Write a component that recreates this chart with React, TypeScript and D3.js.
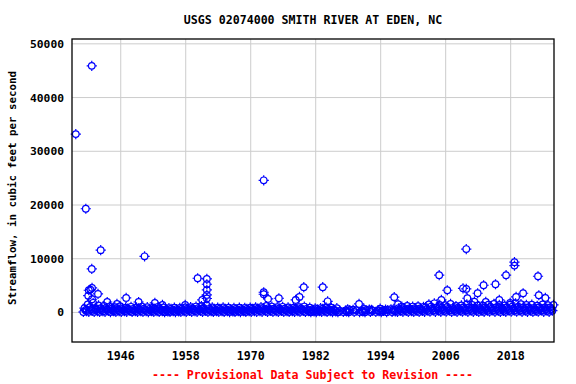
import React from "react";
import * as d3 from "d3";

const title = "USGS 02074000 SMITH RIVER AT EDEN, NC";
const yLabel = "Streamflow, in cubic feet per second";
const footer = "---- Provisional Data Subject to Revision ----";
const xTicks = [1946, 1958, 1970, 1982, 1994, 2006, 2018];
const yTicks = [0, 10000, 20000, 30000, 40000, 50000];

// Dense band of routine measurements: one entry per year starting 1939
const bandStart = 1939;
const bandLow = [80, 120, 100, 90, 110, 70, 100, 90, 110, 85, 100, 95, 75, 90, 80, 60, 85, 70, 90, 100,
  95, 110, 100, 90, 80, 95, 85, 70, 80, 75, 85, 90, 95, 110, 105, 95, 100, 90, 80, 95,
  100, 85, 60, 70, 90, 85, 70, 60, 80, 50, 90, 70, 60, 80, 90, 70, 60, 80, 100, 110,
  90, 100, 95, 120, 130, 110, 120, 140, 100, 110, 130, 120, 110, 100, 120, 130, 110, 100, 120, 140,
  130, 110, 120, 100, 130, 110, 120];
const bandLow2 = [250, 300, 260, 240, 280, 220, 260, 230, 270, 240, 260, 250, 220, 250, 230, 200, 240, 210, 250, 270,
  260, 290, 280, 240, 230, 250, 240, 210, 230, 220, 240, 250, 260, 290, 280, 260, 270, 250, 230, 260,
  270, 240, 200, 220, 250, 240, 210, null, 200, null, null, 180, null, null, 220, null, null, 210, 270, 290,
  260, 280, 270, 340, 360, 320, 330, 370, 300, 320, 350, 330, 310, 300, 340, 360, 320, 300, 340, 380,
  360, 320, 340, 300, 360, 320, 330];
const bandMid = [420, 600, 500, 450, 520, 380, 470, 430, 500, 410, 480, 450, 400, 460, 420, 350, 400, 380, 440, 470,
  450, 520, 500, 430, 410, 450, 430, 380, 400, 390, 420, 440, 460, 520, 500, 470, 480, 450, 420, 460,
  480, 430, 340, 380, 440, 420, 360, 300, 350, null, 400, 280, null, 330, 380, 300, null, 360, 500, 520,
  480, 520, 470, 650, 700, 620, 600, 680, 550, 600, 650, 620, 580, 560, 640, 700, 620, 580, 640, 720,
  680, 620, 640, 560, 680, 600, 620];
const bandHigh2 = [800, 1000, 850, 780, 820, 700, 780, 650, 740, 680, 760, 720, 640, 740, 680, 580, 650, 620, 690, 720,
  760, 820, 860, 680, 650, 690, 660, 600, 640, 620, 660, 690, 720, 820, 780, 720, 740, 690, 650, 720,
  760, 650, 540, 600, 690, 660, 580, null, null, 420, null, null, 430, 480, null, 400, 450, 500, 780, 820,
  760, 800, 740, 1000, 1100, 950, 920, 1050, 850, 900, 1000, 950, 900, 870, 980, 1050, 950, 900, 980, 1100,
  1020, 950, 980, 870, 1000, 920, 950];
const bandHigh = [1500, 1800, 1300, 1200, 1100, 1000, 1150, 900, 1050, 950, 1100, 1000, 900, 1050, 950, 800, 900, 850, 950, 1000,
  1100, 1200, 1300, 950, 900, 950, 900, 850, 880, 860, 900, 950, 1000, 1200, 1100, 1000, 1050, 950, 900, 1000,
  1100, 900, 750, 820, 950, 900, 800, null, 600, 500, null, 650, 550, null, 700, 520, 600, null, 1100, 1200,
  1100, 1150, 1050, 1500, 1700, 1400, 1350, 1600, 1200, 1300, 1500, 1400, 1300, 1250, 1450, 1600, 1400, 1300, 1450, 1700,
  1550, 1400, 1450, 1250, 1500, 1350, 1400];

// Higher measurements (decimal year, cfs)
const peakYears = [1937.7, 1939.55, 1940.65, 1940.65, 1942.3, 1940.7, 1940.4, 1940.1, 1940.0, 1941.8,
  1940.7, 1943.5, 1945.3, 1947.0, 1949.3, 1950.4, 1952.3, 1953.7, 1957.9, 1960.2,
  1961.05, 1961.9, 1961.9, 1961.9, 1961.9, 1961.9, 1972.4, 1972.4, 1972.4, 1973.2,
  1975.2, 1978.3, 1979.0, 1979.8, 1983.3, 1984.2, 1990.0, 1996.5, 1997.2, 2004.8,
  2005.2, 2006.3, 2009.2, 2009.8, 2009.8, 2010.0, 2011.3, 2011.9, 2013.0, 2013.4,
  2015.2, 2015.9, 2017.15, 2017.9, 2018.7, 2018.7, 2019.0, 2020.3, 2023.05, 2023.2, 2024.4];
const peakValues = [33200, 19300, 45900, 8100, 11600, 4560, 4250, 4130, 3130, 3440,
  2460, 1950, 1580, 2700, 1950, 10450, 1770, 1400, 1400, 6370,
  2330, 6240, 5250, 4190, 3260, 2600, 24600, 3760, 3390, 2510,
  2640, 2330, 2890, 4700, 4700, 2080, 1580, 2850, 1530, 6930,
  2330, 4130, 4500, 4380, 11800, 2640, 2010, 3570, 5060, 1955,
  5250, 2330, 6930, 1770, 9350, 8720, 2890, 3570, 6740, 3200, 2700];

const W = 576, H = 384;
const L = 72, R = 554, T = 39, B = 342;
const MONO = "'DejaVu Sans Mono', 'Liberation Mono', monospace";

export default function App() {
  const x = d3.scaleLinear().domain([1937.0, 2026.0]).range([L, R]);
  const y = d3.scaleLinear().domain([-5500, 50900]).range([B, T]);

  const pts: { yr: number; v: number }[] = [];
  const offsets = [0.1, 0.3, 0.5, 0.7, 0.9];
  bandLow.forEach((_, i) => {
    const cols = [bandLow[i], bandHigh2[i], bandMid[i], bandLow2[i], bandHigh[i]];
    cols.forEach((v, j) => {
      if (v !== null && v !== undefined) pts.push({ yr: bandStart + i + offsets[j], v: v as number });
    });
  });
  peakYears.forEach((yr, i) => pts.push({ yr, v: peakValues[i] }));

  const r = 3.3, s = 1.8;
  const blue = "#0000ff";

  return (
    <svg width={W} height={H} style={{ position: "absolute", left: 0, top: 0, background: "#fff" }}>
      <rect x={0} y={0} width={W} height={H} fill="#fff" />
      <text x={313} y={24} textAnchor="middle" fontFamily={MONO} fontWeight="bold" fontSize={11.6}>{title}</text>
      {xTicks.map(t => (
        <line key={"gx" + t} x1={x(t)} x2={x(t)} y1={T} y2={B} stroke="#cccccc" strokeWidth={1} />
      ))}
      {yTicks.map(t => (
        <line key={"gy" + t} x1={L} x2={R} y1={y(t)} y2={y(t)} stroke="#cccccc" strokeWidth={1} />
      ))}
      <g fill="none" stroke={blue} strokeWidth={1.2}>
        {pts.map((p, i) => {
          const cx = x(p.yr), cy = y(p.v);
          return (
            <g key={i}>
              <circle cx={cx} cy={cy} r={r} />
              <path d={`M${cx},${cy - r - s}V${cy - r}M${cx},${cy + r}V${cy + r + s}M${cx - r - s},${cy}H${cx - r}M${cx + r},${cy}H${cx + r + s}`} />
            </g>
          );
        })}
      </g>
      <rect x={L} y={T} width={R - L} height={B - T} fill="none" stroke="#000" strokeWidth={1.3} />
      {xTicks.map(t => (
        <text key={"tx" + t} x={x(t)} y={360} textAnchor="middle" fontFamily={MONO} fontWeight="bold" fontSize={11.6}>{t}</text>
      ))}
      {yTicks.map(t => (
        <text key={"ty" + t} x={64} y={y(t) + 4} textAnchor="end" fontFamily={MONO} fontWeight="bold" fontSize={11.3}>{t}</text>
      ))}
      <text transform={`translate(16,188) rotate(-90)`} textAnchor="middle" fontFamily={MONO} fontWeight="bold" fontSize={10.8}>{yLabel}</text>
      <text x={312.5} y={379} textAnchor="middle" fontFamily={MONO} fontWeight="bold" fontSize={11.6} fill="#ff0000">{footer}</text>
    </svg>
  );
}
